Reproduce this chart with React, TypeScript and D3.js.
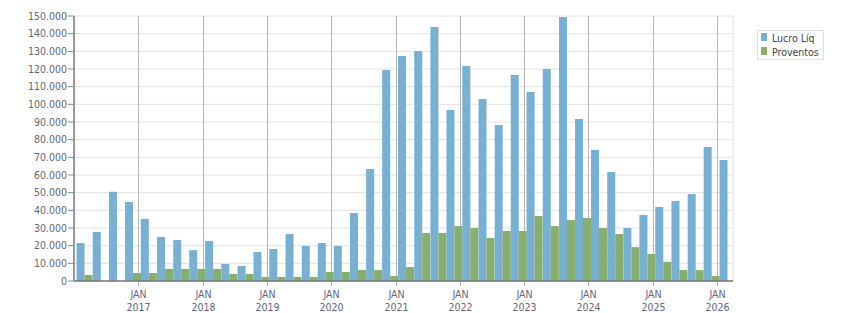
import React from "react";
import * as d3 from "d3";

// quarterly figures, dated by the last month of each quarter
const quarters = [
  "03/2016", "06/2016", "09/2016", "12/2016",
  "03/2017", "06/2017", "09/2017", "12/2017",
  "03/2018", "06/2018", "09/2018", "12/2018",
  "03/2019", "06/2019", "09/2019", "12/2019",
  "03/2020", "06/2020", "09/2020", "12/2020",
  "03/2021", "06/2021", "09/2021", "12/2021",
  "03/2022", "06/2022", "09/2022", "12/2022",
  "03/2023", "06/2023", "09/2023", "12/2023",
  "03/2024", "06/2024", "09/2024", "12/2024",
  "03/2025", "06/2025", "09/2025", "12/2025",
  "03/2026",
];

const lucroLiq = [
  21500, 27800, 50500, 44700,
  35100, 24900, 23200, 17500,
  22600, 9600, 8500, 16400,
  18100, 26600, 19800, 21500,
  19800, 38500, 63400, 119400,
  127400, 130200, 143800, 96800,
  121700, 103000, 88300, 116600,
  107000, 120000, 149400, 91700,
  74200, 61700, 30000, 37400,
  41900, 45300, 49200, 75800,
  68500,
];

const proventos = [
  3400, 0, 0, 4500,
  4500, 6800, 6800, 6800,
  6800, 4000, 4000, 2300,
  2300, 2300, 2300, 5100,
  5100, 6200, 6200, 2800,
  7900, 27200, 27200, 31100,
  30000, 24300, 28300, 28300,
  36800, 31100, 34500, 35700,
  30000, 26600, 19200, 15300,
  10800, 6200, 6200, 2800,
  0,
];

const yearTicks = [2017, 2018, 2019, 2020, 2021, 2022, 2023, 2024, 2025, 2026];
const seriesNames = ["Lucro Líq", "Proventos"];
const seriesColors = ["#77b0d3", "#87ae6a"];

const W = 851;
const H = 313;
const margin = { top: 16, right: 118, bottom: 32, left: 74 };
const font = "'DejaVu Sans Condensed', 'DejaVu Sans', sans-serif";

const ptBR = d3.formatLocale({
  decimal: ",",
  thousands: ".",
  grouping: [3],
  currency: ["R$", ""],
});
const fmt = ptBR.format(",d");
const parseQ = d3.timeParse("%m/%Y");

export default function App() {
  const x = d3
    .scaleTime()
    .domain([new Date(2016, 0, 1), new Date(2026, 3, 1)])
    .range([margin.left, W - margin.right]);
  const y = d3
    .scaleLinear()
    .domain([0, 150000])
    .range([H - margin.bottom, margin.top]);

  const dates = quarters.map((q) => parseQ(q) as Date);
  const bw = (x(new Date(2016, 3, 1)) - x(new Date(2016, 0, 1))) / 2;
  const x0 = margin.left;
  const x1 = W - margin.right;
  const y0 = y(0);
  const yTicks = y.ticks(15);

  return (
    <div style={{ position: "absolute", left: 0, top: 0 }}>
      <svg width={W} height={H} style={{ display: "block", fontFamily: font }}>
        <rect width={W} height={H} fill="#fff" />

        {/* horizontal grid */}
        {yTicks.map((t) => (
          <line key={"h" + t} x1={x0} x2={x1} y1={y(t)} y2={y(t)} stroke="#e2e2e2" />
        ))}
        <line x1={x1} x2={x1} y1={margin.top} y2={y0} stroke="#dedede" />

        {/* yearly grid */}
        {yearTicks.map((yr) => {
          const xx = Math.round(x(new Date(yr, 0, 1))) + 0.5;
          return (
            <line key={"v" + yr} x1={xx} x2={xx} y1={margin.top} y2={y0 + 5} stroke="#b5b5b5" />
          );
        })}

        {/* bars */}
        {dates.map((d, i) => (
          <g key={quarters[i]}>
            <rect
              x={x(d) - bw}
              y={y(lucroLiq[i])}
              width={bw}
              height={y0 - y(lucroLiq[i])}
              fill={seriesColors[0]}
            />
            {proventos[i] > 0 && (
              <rect
                x={x(d)}
                y={y(proventos[i])}
                width={bw}
                height={y0 - y(proventos[i])}
                fill={seriesColors[1]}
              />
            )}
          </g>
        ))}

        {/* y axis */}
        <line x1={x0} x2={x0} y1={margin.top} y2={y0} stroke="#777" strokeWidth={1.5} />
        {yTicks.map((t) => (
          <g key={"yt" + t}>
            <line x1={x0 - 6} x2={x0} y1={y(t)} y2={y(t)} stroke="#888" />
            <text
              x={x0 - 7}
              y={y(t)}
              dy="0.35em"
              textAnchor="end"
              fontSize={10.5}
              fill="#666670"
            >
              {fmt(t)}
            </text>
          </g>
        ))}

        {/* x axis */}
        <line x1={x0} x2={x1} y1={y0} y2={y0} stroke="#777" strokeWidth={1.5} />
        {yearTicks.map((yr) => {
          const xx = Math.round(x(new Date(yr, 0, 1))) + 0.5;
          return (
            <g key={"xt" + yr} fontSize={10.5} fill="#66667a" textAnchor="middle">
              <text x={xx} y={298}>JAN</text>
              <text x={xx} y={311}>{yr}</text>
            </g>
          );
        })}

        {/* legend */}
        <rect x={757.5} y={30.5} width={66} height={29} fill="#fff" stroke="#dddddd" />
        {seriesNames.map((name, i) => (
          <g key={name}>
            <rect x={761} y={33 + i * 14} width={6} height={8} fill={seriesColors[i]} />
            <text x={772} y={41.5 + i * 14} fontSize={10.5} fill="#444">
              {name}
            </text>
          </g>
        ))}
      </svg>
    </div>
  );
}
